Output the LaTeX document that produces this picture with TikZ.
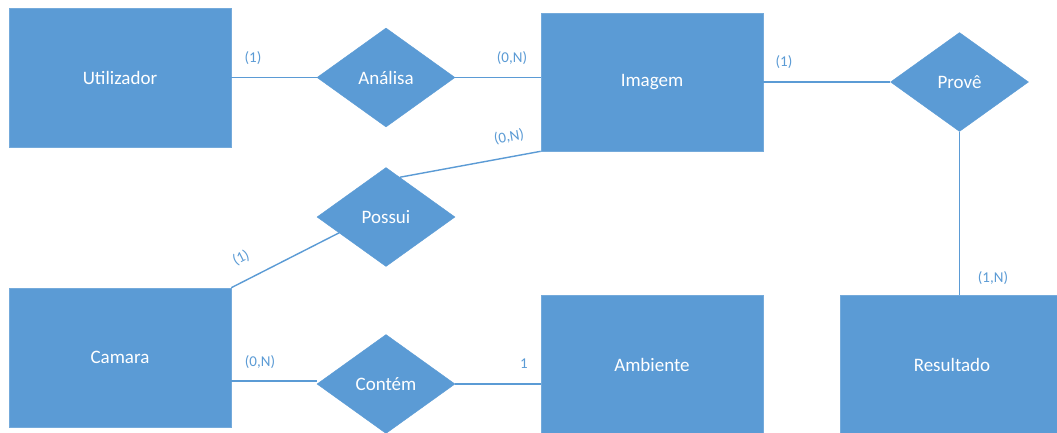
\documentclass[tikz,border=0pt]{standalone}
\usepackage{fontspec}
\setmainfont{Carlito}
\usetikzlibrary{shapes.geometric,calc}
\definecolor{erblue}{HTML}{5B9BD5}
\tikzset{
  entity/.style={rectangle, fill=erblue, draw=erblue!85!white, line width=0.6pt, text=white, font=\fontsize{19}{21}\selectfont, minimum width=222pt, minimum height=139pt, inner sep=0pt},
  relation/.style={diamond, fill=erblue, draw=erblue, text=white, font=\fontsize{19}{21}\selectfont, minimum width=138pt, minimum height=99pt, inner sep=0pt},
  conn/.style={draw=erblue, line width=1.4pt},
  card/.style={text=erblue, font=\fontsize{15}{17}\selectfont, inner sep=0pt}
}
\begin{document}
\begin{tikzpicture}[x=1pt,y=-1pt]
\useasboundingbox (0,0) rectangle (1057,432);
\clip (0,0) rectangle (1057,432);
\fill[white] (0,0) rectangle (1057,432);
% entities
\node[entity] (util) at (120,77.5) {Utilizador};
\node[entity, minimum height=138pt] (imagem) at (652,82) {Imagem};
\node[entity] (camara) at (120,357.5) {Camara};
\node[entity, minimum height=140pt] (ambiente) at (652,365) {Ambiente};
\node[entity, minimum width=224pt, minimum height=140pt] (resultado) at (952,365) {Resultado};
% relations
\node[relation] (analisa) at (386,77.5) {Análisa};
\node[relation] (possui) at (386,217) {Possui};
\node[relation] (contem) at (386,384) {Contém};
\node[relation] (prove) at (959.5,82) {Provê};
% connection points
\coordinate (pA) at ($(possui.north)!0.2!(possui.east)$);
\coordinate (pB) at ($(possui.west)!0.32!(possui.south)$);
% connectors
\draw[conn] (util.east) -- (analisa.west);
\draw[conn] (analisa.east) -- (analisa.east -| imagem.west);
\draw[conn] (imagem.east |- prove.west) -- (prove.west);
\draw[conn] (prove.south) -- (prove.south |- resultado.north);
\draw[conn] (imagem.south west) -- (pA);
\draw[conn] (camara.north east) -- (pB);
\draw[conn] ($(contem.west -| camara.east)+(0,-3)$) -- ($(contem.west)+(0,-3)$);
\draw[conn] (contem.east) -- (contem.east -| ambiente.west);
% cardinalities
\node[card] (c1) at (253,58) {(1)};
\node[card] (c2) at (512,58) {(0,N)};
\node[card, rotate=10] (c3) at (509,137) {(0,N)};
\node[card, rotate=27] (c4) at (241,258) {(1)};
\node[card] (c5) at (784,62) {(1)};
\node[card] (c6) at (993,278) {(1,N)};
\node[card] (c7) at (260,362) {(0,N)};
\node[card] (c8) at (524,364) {1};
\end{tikzpicture}
\end{document}
